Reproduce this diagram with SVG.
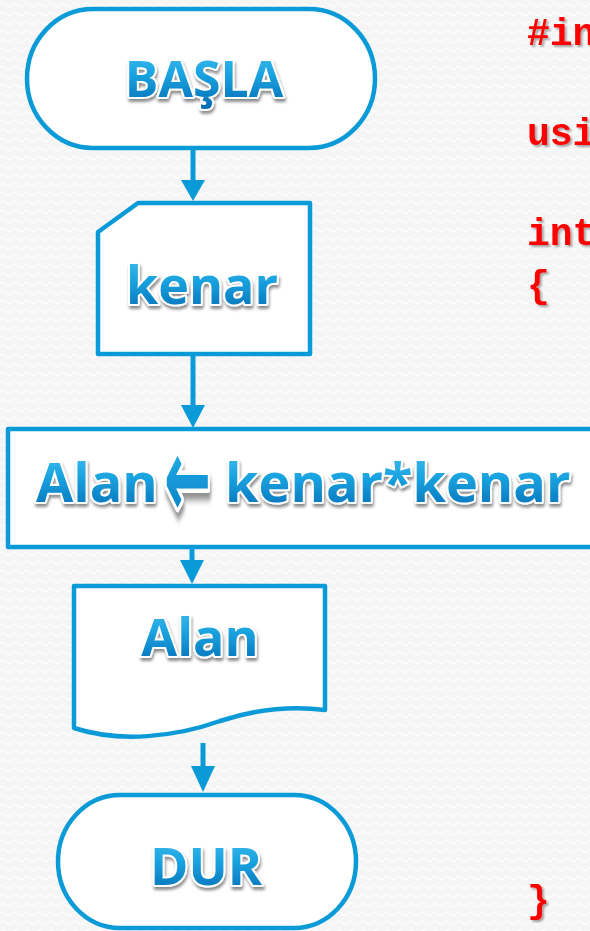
<svg xmlns="http://www.w3.org/2000/svg" width="590" height="931" viewBox="0 0 590 931">
  <defs>
    <!-- faint wavy backdrop texture -->
    <pattern id="waves" width="12" height="9" patternUnits="userSpaceOnUse">
      <rect width="12" height="9" fill="#f5f5f5"/>
      <path d="M0,5 Q3,1.5 6,5 T12,5" fill="none" stroke="#fdfdfd" stroke-width="1.6"/>
    </pattern>
    <linearGradient id="blueText" x1="0" y1="0" x2="0" y2="1">
      <stop offset="0" stop-color="#4cc3f2"/>
      <stop offset="0.45" stop-color="#1aa3e0"/>
      <stop offset="1" stop-color="#0066b0"/>
    </linearGradient>
    <filter id="textShadow" x="-10%" y="-20%" width="120%" height="150%">
      <feGaussianBlur in="SourceAlpha" stdDeviation="1.6"/>
      <feOffset dx="1" dy="3" result="off"/>
      <feComponentTransfer><feFuncA type="linear" slope="0.45"/></feComponentTransfer>
      <feMerge><feMergeNode/><feMergeNode in="SourceGraphic"/></feMerge>
    </filter>
    <filter id="codeShadow" x="-10%" y="-20%" width="130%" height="150%">
      <feGaussianBlur in="SourceAlpha" stdDeviation="1"/>
      <feOffset dx="2" dy="2" result="off"/>
      <feComponentTransfer><feFuncA type="linear" slope="0.35"/></feComponentTransfer>
      <feMerge><feMergeNode/><feMergeNode in="SourceGraphic"/></feMerge>
    </filter>
    <style>
      .shape { fill: #ffffff; stroke: #0a9ad8; stroke-width: 4.5; stroke-linejoin: round; }
      .label { font-family: "Open Sans", "Noto Sans", "DejaVu Sans", sans-serif; font-weight: 700;
               fill: url(#blueText); stroke: #ffffff; stroke-width: 4; paint-order: stroke;
               stroke-linejoin: round; filter: url(#textShadow); }
      .code { font-family: "Liberation Mono", "Courier New", monospace; font-weight: 700;
              font-size: 38px; fill: #ff0000; filter: url(#codeShadow); }
      .wire { stroke: #0a9ad8; stroke-width: 5; fill: none; }
      .tip { fill: #0a9ad8; }
    </style>
  </defs>

  <rect width="590" height="931" fill="url(#waves)"/>

  <!-- program source beside the chart -->
  <g id="code">
    <text class="code" x="527" y="45">#in</text>
    <text class="code" x="527" y="145">usi</text>
    <text class="code" x="527" y="245">int</text>
    <text class="code" x="527" y="297">{</text>
    <text class="code" x="527" y="912">}</text>
  </g>

  <!-- connectors -->
  <g id="connectors">
    <line class="wire" x1="193" y1="148" x2="193" y2="182"/>
    <path class="tip" d="M181,180 L205,180 L193,201 Z"/>
    <line class="wire" x1="193" y1="355" x2="193" y2="407"/>
    <path class="tip" d="M181,405 L205,405 L193,428 Z"/>
    <line class="wire" x1="192" y1="547" x2="192" y2="562"/>
    <path class="tip" d="M180,560 L204,560 L192,584 Z"/>
    <line class="wire" x1="203" y1="743" x2="203" y2="768"/>
    <path class="tip" d="M191,766 L215,766 L203,792 Z"/>
  </g>

  <!-- start terminal -->
  <g id="start">
    <rect class="shape" x="27" y="9" width="348" height="139" rx="66" ry="69.5"/>
    <text class="label" x="204" y="97" font-size="50" text-anchor="middle">BAŞLA</text>
  </g>

  <!-- manual input: kenar -->
  <g id="input">
    <path class="shape" d="M98,232 L138,203 L310,203 L310,354 L98,354 Z"/>
    <text class="label" x="202" y="304" font-size="52" text-anchor="middle">kenar</text>
  </g>

  <!-- process: area computation -->
  <g id="process">
    <rect class="shape" x="8" y="429" width="600" height="118"/>
    <text class="label" font-size="54" x="36" y="502">Alan</text>
    <text class="label" font-size="50" font-family="DejaVu Sans, sans-serif" font-weight="400" stroke-width="2" transform="translate(164,518) scale(1.12,2.3)">←</text>
    <text class="label" font-size="54" x="225" y="502">kenar*kenar</text>
  </g>

  <!-- output document: Alan -->
  <g id="output">
    <path class="shape" d="M74,586 L325,586 L325,710 C295,706 260,708 220,721 C175,737 120,743 74,728 Z"/>
    <text class="label" x="200" y="656" font-size="52" text-anchor="middle">Alan</text>
  </g>

  <!-- end terminal -->
  <g id="end">
    <rect class="shape" x="58" y="795" width="298" height="133" rx="62" ry="66.5"/>
    <text class="label" x="206" y="885" font-size="52" text-anchor="middle">DUR</text>
  </g>
</svg>
